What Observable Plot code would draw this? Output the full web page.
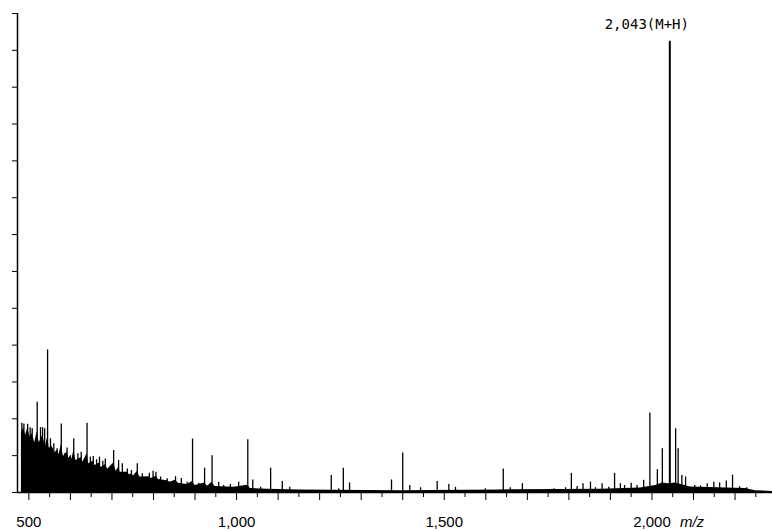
<!DOCTYPE html>
<html>
<head>
<meta charset="utf-8">
<script src="https://cdn.jsdelivr.net/npm/d3@7"></script>
<script src="https://cdn.jsdelivr.net/npm/@observablehq/plot@0.6"></script>
<style>
  html, body { margin: 0; padding: 0; background: #fff; }
  #chart { width: 772px; height: 531px; }
</style>
</head>
<body>
<div id="chart"></div>
<script>
// Peak positions (m/z) and intensities (axis units, 13 ticks of 10)
const peakMz = [483,488,497,503,508,520,528,533,538,545,
  552,560,568,578,586,592,600,608,618,626,
  634,640,648,655,663,670,678,684,704,716,
  725,737,747,761,773,790,799,806,817,833,
  853,867,881,894,909,923,941,957,969,985,
  1005,1027,1039,1058,1082,1110,1128,1228,1246,1257,
  1272,1373,1400,1417,1443,1483,1511,1527,1599,1642,
  1659,1688,1764,1792,1806,1820,1834,1852,1864,1880,
  1896,1910,1924,1934,1950,1964,1980,1995,2013,2025,
  2043,2057,2063,2072,2081,2103,2117,2133,2149,2163,
  2179,2194,2211,2228];
const peakInt = [18.8,18.6,18.5,17.6,17.3,24.5,17.6,17.6,17.3,38.7,
  14.6,13.2,11.9,18.6,10.5,12.1,10.0,14.6,10.5,10.9,
  9.1,18.8,9.6,9.8,8.9,9.6,8.5,9.1,11.4,8.7,
  7.8,6.4,6.0,7.8,5.1,5.2,5.8,5.5,4.2,3.7,
  4.3,3.8,2.8,14.5,2.5,6.6,10.0,2.8,1.9,2.2,
  2.8,14.3,3.4,1.4,6.6,3.0,1.4,4.6,1.0,6.6,
  2.6,3.4,10.7,1.9,1.3,3.0,2.2,1.4,1.0,6.4,
  1.3,2.4,1.0,1.3,5.2,1.6,2.4,2.8,1.3,2.4,
  1.4,5.2,2.4,1.9,2.5,1.9,3.3,21.6,6.2,11.9,
  122.5,17.3,11.9,4.6,4.2,1.9,1.8,2.4,2.8,2.6,
  3.1,4.7,1.6,1.3];

// Unresolved background of the spectrum (humps and valleys as read)
const envMz = [482,488,492,497,503,508,514,520,525,533,
  540,545,549,556,563,568,573,578,583,592,
  596,600,604,608,613,626,630,640,644,655,
  659,670,674,684,690,704,710,716,720,737,
  742,747,752,761,767,790,795,806,812,833,
  840,853,860,881,894,900,923,930,941,948,
  993,1027,1033,1074,1154,1395,1635,1779,1876,1972,
  2009,2025,2040,2057,2092,2225,2249,2290];
const envInt = [16.3,17.5,15.5,17.5,15.0,16.0,13.5,16.5,13.5,15.5,
  12.5,15.0,12.0,12.5,10.8,11.5,10.3,13.0,9.8,11.0,
  9.3,9.8,9.0,11.5,8.7,9.5,8.2,10.5,7.8,8.5,
  7.3,8.0,6.8,7.5,6.3,8.0,5.8,6.8,5.5,5.5,
  4.8,5.0,4.5,5.8,4.2,4.3,3.8,4.4,3.5,3.2,
  2.8,3.3,2.5,2.2,3.0,1.9,2.6,1.7,2.8,1.6,
  1.4,2.0,1.1,0.9,0.7,0.5,0.7,0.8,0.9,1.2,
  1.9,2.6,2.4,2.6,1.5,1.1,0.5,0.3];

// Annotation
const labelText = ["2,043(M+H)"];
const labelMz = [2043];
const labelInt = [122.5];

// Ticks
const xLabelTicks = [500, 1000, 1500, 2000];
const xMajorTicks = [500,600,700,800,900,1000,1100,1200,1300,1400,1500,1600,1700,1800,1900,2000,2100,2200];
const xMinorTicks = [550,650,750,850,950,1050,1150,1250,1350,1450,1550,1650,1750,1850,1950,2050,2150,2250];
const yTicks = [0,10,20,30,40,50,60,70,80,90,100,110,120,130];
const xUnit = "m/z";

const peaks = peakMz.map((mz, i) => ({mz, I: peakInt[i]}));
const env = envMz.map((mz, i) => ({mz, I: envInt[i]}));
const labels = labelText.map((t, i) => ({t, mz: labelMz[i], I: labelInt[i]}));

const chart = Plot.plot({
  width: 772,
  height: 531,
  marginLeft: 17,
  marginRight: 0,
  marginTop: 13,
  marginBottom: 39,
  style: {fontFamily: "'Liberation Sans', Arial, sans-serif", fontSize: "15px", background: "#fff", color: "#000"},
  x: {domain: [472.6, 2290.2], axis: null, label: null},
  y: {domain: [0, 130], axis: null, label: null},
  marks: [
    Plot.areaY(env, {x: "mz", y: "I", fill: "#000", curve: "linear"}),
    Plot.ruleX(peaks, {x: "mz", y1: 0, y2: "I", stroke: "#000", strokeWidth: d => d.I > 50 ? 2 : 1.3}),
    Plot.ruleY([0], {stroke: "#000", strokeWidth: 1.5}),
    Plot.ruleX([472.6], {y1: 0, y2: 130, stroke: "#000", strokeWidth: 1.5}),
    Plot.axisY({ticks: yTicks, tickSize: 5, tickFormat: () => "", anchor: "left", label: null}),
    Plot.axisX({ticks: xMajorTicks, tickSize: 8, tickFormat: () => "", label: null}),
    Plot.axisX({ticks: xMinorTicks, tickSize: 5, tickFormat: () => "", label: null}),
    Plot.axisX({ticks: xLabelTicks, tickSize: 0, tickPadding: 24, tickFormat: d3.format(","), fontSize: 15, label: null}),
    Plot.text([xUnit], {x: [2000], y: [0], text: d => d, dx: 28, dy: 30, textAnchor: "start", fontStyle: "italic", fontSize: 15}),
    Plot.text(labels, {x: "mz", y: "I", text: "t", dx: -23, dy: -17, textAnchor: "middle", fontFamily: "'DejaVu Sans Mono', monospace", fontSize: 14})
  ]
});
document.getElementById("chart").appendChild(chart);
</script>
</body>
</html>
